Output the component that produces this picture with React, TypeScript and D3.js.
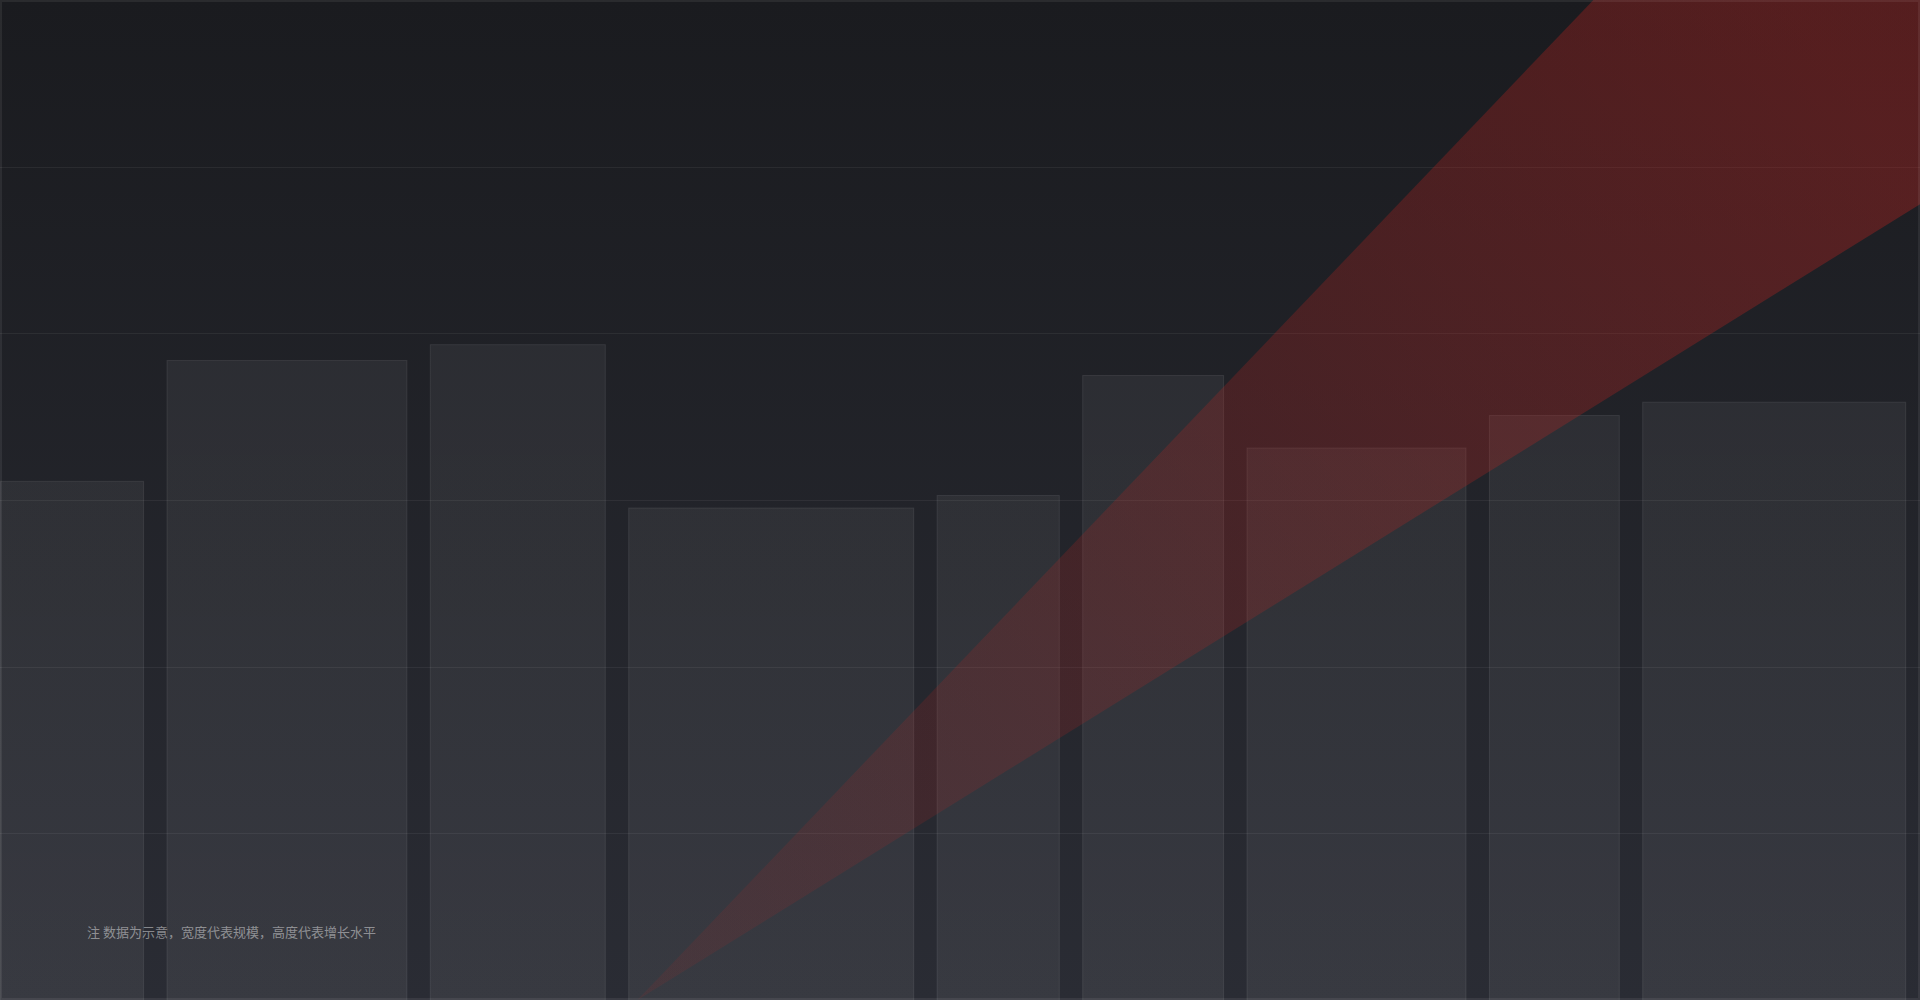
import React from "react";
import * as d3 from "d3";

const W = 1920;
const H = 1000;

// Variable-width bars (width weight, value)
const barWeights = [13.1, 21.9, 16.0, 26.0, 11.2, 12.9, 20.0, 11.9, 24.0];
const barValues = [62.3, 76.8, 78.7, 59.1, 60.6, 75.0, 66.3, 70.2, 71.8];
const yTicks = [20, 40, 60, 80, 100];

// Trend band (fraction across width, low/high values)
const trendX = [0.332, 1];
const trendLow = [0, 95.5];
const trendHigh = [0, 161];

const noteText = "注 数据为示意，宽度代表规模，高度代表增长水平";

export default function App() {
  const y = d3.scaleLinear().domain([0, 120]).range([H, 0]);
  const unit = 11;
  const gap = 22.4;
  const total = d3.sum(barWeights);
  const x = d3.scaleLinear().domain([0, total]).range([0, total * unit]);
  const cum = d3.cumsum(barWeights);
  const bars = barWeights.map((w, i) => {
    const start = i === 0 ? 0 : cum[i - 1];
    const left = x(start) + i * gap;
    const right = x(start + w) + i * gap;
    return { left, right, top: y(barValues[i]) };
  });

  const tx = d3.scaleLinear().domain([0, 1]).range([0, W]);
  const band = trendX.map((t, i) => ({ t, lo: trendLow[i], hi: trendHigh[i] }));
  const area = d3
    .area<{ t: number; lo: number; hi: number }>()
    .x((d) => tx(d.t))
    .y0((d) => y(d.lo))
    .y1((d) => y(d.hi));

  return (
    <svg
      width={W}
      height={H}
      style={{ position: "fixed", left: 0, top: 0, display: "block" }}
    >
      <defs>
        <linearGradient id="bg" x1="0" y1="0" x2="0" y2={H} gradientUnits="userSpaceOnUse">
          <stop offset="0" stopColor="#1a1b1f" />
          <stop offset="1" stopColor="#2a2c34" />
        </linearGradient>
        <linearGradient id="bar" x1="0" y1="0" x2="0" y2={H} gradientUnits="userSpaceOnUse">
          <stop offset="0" stopColor="#ffffff" stopOpacity="0.05" />
          <stop offset="1" stopColor="#ffffff" stopOpacity="0.065" />
        </linearGradient>
        <linearGradient
          id="wedge"
          x1={tx(trendX[0])}
          y1={y(0)}
          x2={W}
          y2={y(trendLow[1])}
          gradientUnits="userSpaceOnUse"
        >
          <stop offset="0" stopColor="#c8231e" stopOpacity="0.1" />
          <stop offset="1" stopColor="#c8231e" stopOpacity="0.34" />
        </linearGradient>
      </defs>
      <rect x={0} y={0} width={W} height={H} fill="url(#bg)" />
      {bars.map((b, i) => (
        <rect
          key={i}
          x={b.left + 0.5}
          y={b.top + 0.5}
          width={b.right - b.left - 1}
          height={H - b.top + 5}
          fill="url(#bar)"
          stroke="#ffffff"
          strokeOpacity={0.08}
          strokeWidth={1}
        />
      ))}
      {yTicks.map((t) => (
        <line
          key={t}
          x1={0}
          x2={W}
          y1={Math.round(y(t)) + 0.5}
          y2={Math.round(y(t)) + 0.5}
          stroke="#ffffff"
          strokeOpacity={0.06}
        />
      ))}
      <path d={area(band) || ""} fill="url(#wedge)" />
      <text
        x={87}
        y={937}
        fill="#ffffff"
        fillOpacity={0.45}
        fontFamily="'Noto Sans CJK SC', sans-serif"
        fontSize={13}
      >
        {noteText}
      </text>
      <rect
        x={1}
        y={1}
        width={W - 2}
        height={H - 2}
        fill="none"
        stroke="#ffffff"
        strokeOpacity={0.07}
        strokeWidth={2}
      />
    </svg>
  );
}
